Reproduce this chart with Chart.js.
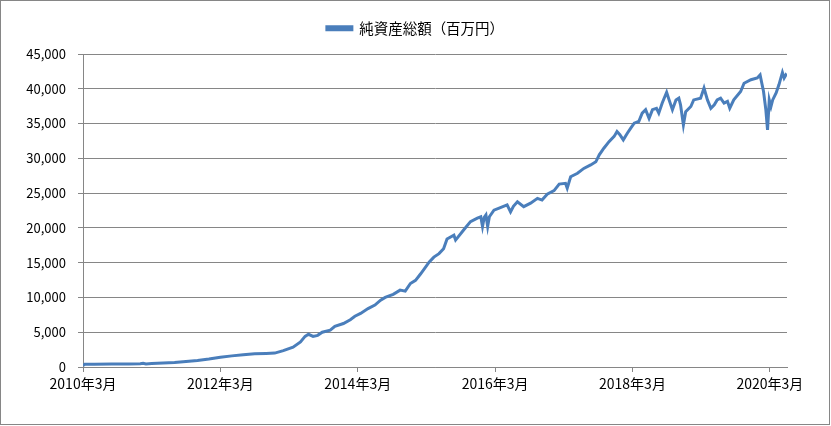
<!DOCTYPE html>
<html>
<head>
<meta charset="utf-8">
<script src="https://cdn.jsdelivr.net/npm/chart.js@4"></script>
<style>
  html, body { margin: 0; padding: 0; background: #fff; }
  #wrap { width: 831px; height: 426px; }
</style>
</head>
<body>
<div id="wrap"><canvas id="chart" width="831" height="426"></canvas></div>
<script>
// 2010年3月からの経過月数
const months = [
  0, 0.3, 2, 5, 8, 10, 10.5, 11, 12, 14, 16, 18, 20, 22, 24, 26, 28, 30, 32, 33.5,
  35, 36.7, 38, 38.8, 39.4, 40.2, 41, 41.8, 43.2, 44, 45.5, 46.7, 47.5, 48.5, 49.8,
  51, 52, 52.8, 54.2, 55.4, 56.3, 57.2, 58.1, 59, 60.5, 61.3, 62.2, 63, 63.6, 64.8,
  65.1, 66.5, 67.7, 68.9, 69.5, 69.8, 70.1, 70.4, 70.7, 71, 71.8, 72.6, 74.1, 74.7,
  75.2, 75.9, 77, 78.2, 79.4, 80.2, 81.1, 82.3, 83.2, 84.3, 84.6, 85.2, 86.4, 87.5,
  88.7, 89.6, 90.2, 91, 91.9, 92.8, 93.3, 93.8, 94.4, 95.1, 95.7, 96.3, 97.1, 97.7,
  98.3, 98.9, 99.5, 100.2, 100.6, 101.2, 101.97, 102.4, 102.98, 103.6, 104.1, 104.4,
  104.9, 105.3, 106.2, 106.7, 107.9, 108.5, 109.1, 109.7, 110.3, 110.8, 111.4, 112,
  112.6, 113, 113.7, 114.9, 115.5, 116.7, 117.8, 118.3, 118.6, 118.9, 119.3, 119.6,
  119.9, 120.2, 120.5, 121.1, 121.6, 122.2, 122.5, 122.8, 123
];
// 純資産総額(百万円)
const netAssets = [
  200, 380, 400, 420, 430, 470, 520, 430, 500, 560, 640, 800, 950, 1150, 1400, 1600, 1750, 1900, 1950, 2000,
  2350, 2850, 3600, 4400, 4700, 4400, 4550, 5000, 5300, 5850, 6250, 6800, 7300, 7700, 8400,
  8900, 9600, 10000, 10450, 11050, 10900, 12000, 12450, 13400, 15100, 15800, 16300, 17000, 18400, 18950,
  18250, 19700, 20900, 21400, 21600, 20200, 21500, 21850, 20200, 21600, 22550, 22800, 23300, 22300,
  23100, 23750, 23050, 23550, 24250, 24000, 24850, 25350, 26300, 26400, 25700, 27350, 27850, 28550,
  29050, 29500, 30500, 31450, 32400, 33150, 33850, 33400, 32650, 33600, 34350, 35050, 35300, 36500,
  37000, 35750, 37000, 37200, 36500, 37950, 39500, 38400, 37000, 38400, 38650, 37700,
  34800, 36700, 37450, 38400, 38650, 40100, 38400, 37200, 37700, 38400, 38650, 37950,
  38200, 37200, 38400, 39600, 40800, 41300, 41550, 42000, 40800, 39600, 37000, 34100,
  38400, 37450, 38400, 39400, 40600, 42350, 41550, 42000, 41800
];
const tickMonths = [0, 24, 48, 72, 96, 120];
const tickLabels = ['2010年3月', '2012年3月', '2014年3月', '2016年3月', '2018年3月', '2020年3月'];

const grey = '#868686';
const jpFont = "'Noto Sans CJK JP', 'Noto Sans', sans-serif";

const frame = {
  id: 'frame',
  beforeDraw(chart) {
    const c = chart.ctx;
    c.save();
    c.fillStyle = '#fff';
    c.fillRect(0, 0, chart.width, chart.height);
    c.strokeStyle = grey;
    c.lineWidth = 1;
    c.strokeRect(0.5, 0.5, 829, 424);
    c.restore();
  }
};

// 凡例の高さと横位置を調整
const legendFix = {
  id: 'legendFix',
  beforeLayout(chart) {
    const lg = chart.legend;
    if (lg && !lg._patched) {
      const fit = lg.fit;
      lg.fit = function () { fit.call(this); this.height = 39; };
      lg._patched = true;
    }
  },
  afterLayout(chart) {
    chart.legend.left = 0;
    chart.legend.right = 831;
  }
};

new Chart(document.getElementById('chart'), {
  type: 'line',
  data: {
    datasets: [{
      label: '純資産総額（百万円）',
      data: months.map((m, i) => ({ x: m, y: netAssets[i] })),
      borderColor: '#4a7ebb',
      backgroundColor: '#4a7ebb',
      borderWidth: 3,
      pointRadius: 0,
      tension: 0
    }]
  },
  options: {
    responsive: false,
    animation: false,
    layout: { padding: { top: 15, left: 0, right: 44, bottom: 0 } },
    plugins: {
      legend: {
        labels: {
          font: { family: jpFont, size: 14.5 },
          color: '#000',
          boxWidth: 25,
          boxHeight: 3,
          padding: 6
        }
      },
      tooltip: { enabled: false }
    },
    scales: {
      x: {
        type: 'linear',
        min: 0,
        max: 123,
        afterBuildTicks(scale) { scale.ticks = tickMonths.map(v => ({ value: v })); },
        afterFit(scale) { scale.height = 59; },
        ticks: {
          callback: (v) => tickLabels[tickMonths.indexOf(v)],
          font: { family: jpFont, size: 14 },
          color: '#000',
          padding: 3,
          maxRotation: 0,
          autoSkip: false
        },
        grid: { drawOnChartArea: false, drawTicks: true, tickLength: 5, color: grey },
        border: { color: grey }
      },
      y: {
        min: 0,
        max: 45000,
        afterFit(scale) { scale.width = 83; },
        ticks: {
          stepSize: 5000,
          callback: (v) => v.toLocaleString('en-US'),
          font: { family: jpFont, size: 13 },
          color: '#000',
          padding: 12
        },
        grid: { color: grey, tickLength: 5 },
        border: { color: grey }
      }
    }
  },
  plugins: [frame, legendFix]
});
</script>
</body>
</html>
